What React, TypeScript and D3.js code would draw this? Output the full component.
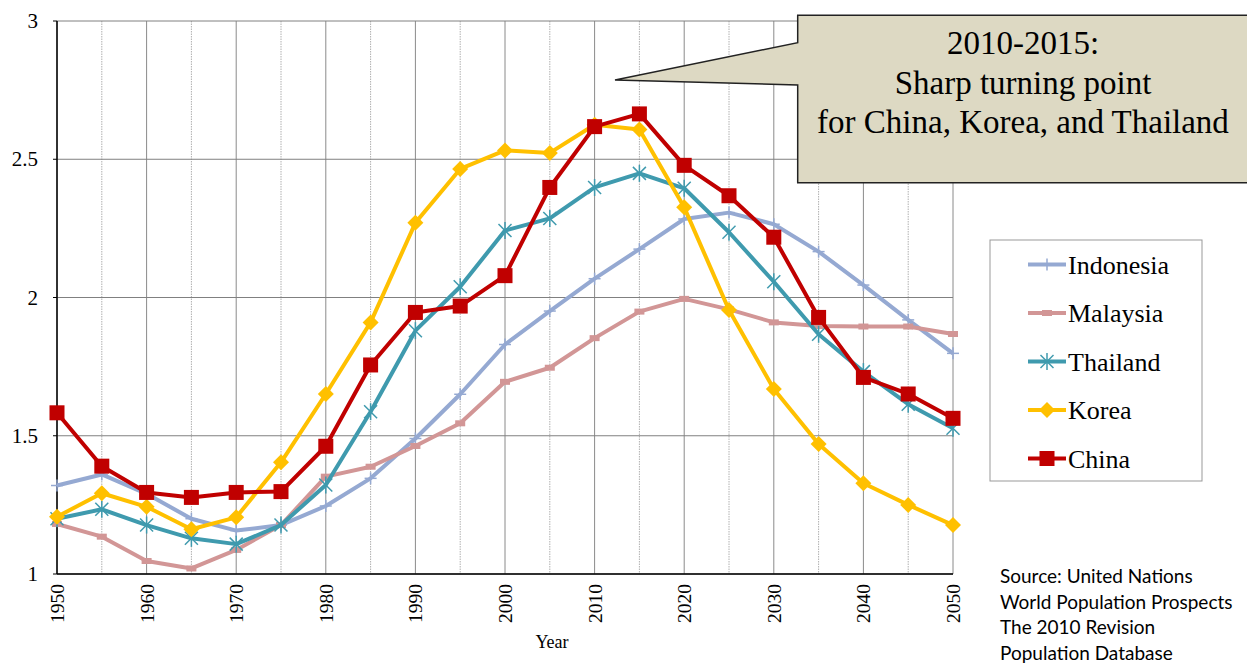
import React from "react";
import * as d3 from "d3";

const years = [1950, 1955, 1960, 1965, 1970, 1975, 1980, 1985, 1990, 1995, 2000, 2005, 2010, 2015, 2020, 2025, 2030, 2035, 2040, 2045, 2050];
const indonesia = [1.32, 1.36, 1.29, 1.2, 1.157, 1.177, 1.246, 1.346, 1.49, 1.65, 1.83, 1.951, 2.068, 2.175, 2.284, 2.307, 2.265, 2.166, 2.045, 1.919, 1.798];
const malaysia = [1.181, 1.135, 1.047, 1.02, 1.087, 1.177, 1.352, 1.388, 1.463, 1.545, 1.695, 1.746, 1.853, 1.949, 1.995, 1.957, 1.91, 1.897, 1.895, 1.895, 1.868];
const thailand = [1.2, 1.234, 1.177, 1.129, 1.108, 1.177, 1.322, 1.587, 1.88, 2.039, 2.242, 2.286, 2.398, 2.449, 2.395, 2.236, 2.057, 1.867, 1.732, 1.614, 1.527];
const korea = [1.207, 1.292, 1.243, 1.162, 1.205, 1.404, 1.651, 1.91, 2.27, 2.465, 2.532, 2.523, 2.625, 2.608, 2.326, 1.955, 1.669, 1.47, 1.328, 1.25, 1.177];
const china = [1.583, 1.39, 1.295, 1.277, 1.295, 1.298, 1.462, 1.756, 1.946, 1.969, 2.079, 2.398, 2.618, 2.664, 2.478, 2.368, 2.218, 1.928, 1.711, 1.651, 1.563];

const seriesNames = ["Indonesia", "Malaysia", "Thailand", "Korea", "China"];
const seriesValues = [indonesia, malaysia, thailand, korea, china];
const seriesColors = ["#95A9D2", "#D29696", "#3F9AAE", "#FFC000", "#C00000"];
const seriesMarkers = ["plus", "dash", "asterisk", "diamond", "square"];

const yTicks = [1, 1.5, 2, 2.5, 3];
const yTickLabels = ["1", "1.5", "2", "2.5", "3"];
const xTickYears = [1950, 1960, 1970, 1980, 1990, 2000, 2010, 2020, 2030, 2040, 2050];
const calloutLines = ["2010-2015:", "Sharp turning point", "for China, Korea, and Thailand"];
const sourceLines = ["Source: United Nations", "World Population Prospects", "The 2010 Revision", "Population Database"];

const W = 1247;
const H = 665;
const serif = "'Liberation Serif', 'Times New Roman', serif";

function Marker({ type, x, y, color }: { type: string; x: number; y: number; color: string }) {
  if (type === "square") return <rect x={x - 7.5} y={y - 7.5} width={15} height={15} fill={color} />;
  if (type === "diamond") return <path d={`M${x},${y - 8}L${x + 8},${y}L${x},${y + 8}L${x - 8},${y}Z`} fill={color} />;
  if (type === "asterisk")
    return (
      <g stroke={color} strokeWidth={1.5}>
        <line x1={x - 6.5} y1={y - 6.5} x2={x + 6.5} y2={y + 6.5} />
        <line x1={x - 6.5} y1={y + 6.5} x2={x + 6.5} y2={y - 6.5} />
        <line x1={x} y1={y - 8.5} x2={x} y2={y + 8.5} />
      </g>
    );
  if (type === "plus")
    return (
      <g stroke={color} strokeWidth={1.5}>
        <line x1={x - 6} y1={y} x2={x + 6} y2={y} />
        <line x1={x} y1={y - 6} x2={x} y2={y + 6} />
      </g>
    );
  return <rect x={x - 5} y={y - 3} width={10} height={6} fill={color} />;
}

export default function App() {
  const x = d3.scaleLinear().domain([1950, 2050]).range([57, 953]);
  const y = d3.scaleLinear().domain([1, 3]).range([574, 21]);
  const line = d3
    .line<number>()
    .x((_, i) => x(years[i]))
    .y((d) => y(d));

  const legendX = 990;
  const legendY = 240;
  const legendRowY = (i: number) => 264.5 + i * 48.5;

  return (
    <svg width={W} height={H} style={{ position: "absolute", left: 0, top: 0, background: "#fff" }}>
      {/* vertical grid */}
      {years.map((yr) => (
        <line
          key={"vg" + yr}
          x1={x(yr)}
          x2={x(yr)}
          y1={y(3)}
          y2={y(1)}
          stroke={yr % 10 === 0 ? "#8a8a8a" : "#b0b0b0"}
          strokeWidth={1}
          strokeDasharray={yr % 10 === 0 ? undefined : "1.5,1"}
        />
      ))}
      {/* horizontal grid */}
      {yTicks.map((t) => (
        <line key={"hg" + t} x1={x(1950)} x2={x(2050)} y1={y(t)} y2={y(t)} stroke="#808080" strokeWidth={1} />
      ))}
      {/* axes */}
      <line x1={x(1950)} x2={x(1950)} y1={y(3)} y2={y(1)} stroke="#000" strokeWidth={1.5} />
      <line x1={x(1950)} x2={x(2050)} y1={y(1)} y2={y(1)} stroke="#000" strokeWidth={1.5} />
      {yTicks.map((t) => (
        <line key={"yt" + t} x1={x(1950) - 4} x2={x(1950)} y1={y(t)} y2={y(t)} stroke="#000" strokeWidth={1} />
      ))}
      {/* y labels */}
      {yTicks.map((t, i) => (
        <text key={"yl" + t} x={38} y={y(t) + 7} textAnchor="end" fontFamily={serif} fontSize={21} fill="#000">
          {yTickLabels[i]}
        </text>
      ))}
      {/* x labels */}
      {xTickYears.map((yr) => (
        <text
          key={"xl" + yr}
          transform={`translate(${x(yr) + 7},${584}) rotate(-90)`}
          textAnchor="end"
          fontFamily={serif}
          fontSize={19.5}
          fill="#000"
        >
          {yr}
        </text>
      ))}
      <text x={552} y={648} textAnchor="middle" fontFamily={serif} fontSize={18} fill="#000">
        Year
      </text>

      {/* series */}
      {seriesValues.map((vals, si) => (
        <g key={"s" + si}>
          <path d={line(vals) || ""} fill="none" stroke={seriesColors[si]} strokeWidth={4} strokeLinejoin="round" />
          {vals.map((v, i) => (
            <Marker key={i} type={seriesMarkers[si]} x={x(years[i])} y={y(v)} color={seriesColors[si]} />
          ))}
        </g>
      ))}

      {/* callout */}
      <path
        d="M797.7,15.3 L1260,15.3 L1260,182.7 L797.7,182.7 L797.7,85 L615,80 L797.7,42.7 Z"
        fill="#DDD9C3"
        stroke="#222"
        strokeWidth={1.5}
      />
      {calloutLines.map((l, i) => (
        <text key={"c" + i} x={1023} y={54 + i * 39.5} textAnchor="middle" fontFamily={serif} fontSize={33} fill="#000">
          {l}
        </text>
      ))}

      {/* legend */}
      <rect x={legendX} y={legendY} width={212} height={241} fill="#fff" stroke="#999" strokeWidth={1} />
      {seriesNames.map((n, i) => (
        <g key={"lg" + n}>
          <line x1={1028} x2={1066} y1={legendRowY(i)} y2={legendRowY(i)} stroke={seriesColors[i]} strokeWidth={4} />
          <Marker type={seriesMarkers[i]} x={1047} y={legendRowY(i)} color={seriesColors[i]} />
          <text x={1068} y={legendRowY(i) + 9} fontFamily={serif} fontSize={26} fill="#000">
            {n}
          </text>
        </g>
      ))}

      {/* source */}
      {sourceLines.map((l, i) => (
        <text key={"src" + i} x={1000} y={583 + i * 25.5} fontFamily="Lato, 'Noto Sans', sans-serif" fontSize={19} fill="#000">
          {l}
        </text>
      ))}
    </svg>
  );
}
